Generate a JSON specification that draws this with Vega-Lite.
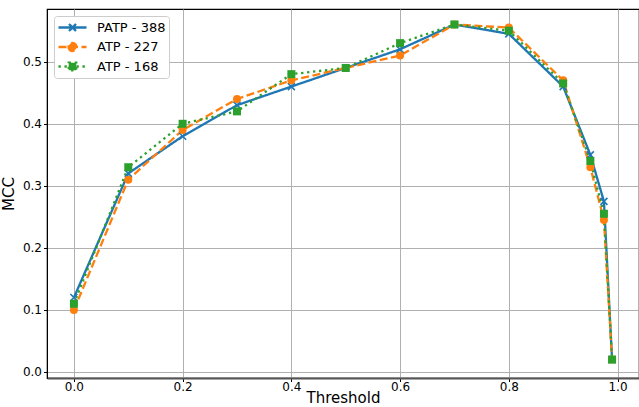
{
  "$schema": "https://vega.github.io/schema/vega-lite/v6.json",
  "width": 592,
  "height": 369,
  "autosize": {"type": "none"},
  "padding": {"left": 47, "top": 9, "right": 0, "bottom": 29},
  "config": {
    "font": "DejaVu Sans",
    "view": {"stroke": "black", "strokeWidth": 1.2},
    "axis": {
      "labelFont": "DejaVu Sans",
      "titleFont": "DejaVu Sans",
      "labelFontSize": 12,
      "titleFontSize": 15,
      "titleFontWeight": "normal",
      "labelColor": "black",
      "titleColor": "black",
      "tickColor": "black",
      "tickSize": 3.5,
      "gridColor": "#b0b0b0",
      "gridWidth": 1,
      "domainColor": "black"
    }
  },
  "datasets": {
    "mcc": [
      {"series": "PATP - 388", "threshold": 0.0, "mcc": 0.12},
      {"series": "PATP - 388", "threshold": 0.1, "mcc": 0.32},
      {"series": "PATP - 388", "threshold": 0.2, "mcc": 0.38},
      {"series": "PATP - 388", "threshold": 0.3, "mcc": 0.43},
      {"series": "PATP - 388", "threshold": 0.4, "mcc": 0.46},
      {"series": "PATP - 388", "threshold": 0.5, "mcc": 0.49},
      {"series": "PATP - 388", "threshold": 0.6, "mcc": 0.52},
      {"series": "PATP - 388", "threshold": 0.7, "mcc": 0.56},
      {"series": "PATP - 388", "threshold": 0.8, "mcc": 0.545},
      {"series": "PATP - 388", "threshold": 0.9, "mcc": 0.46},
      {"series": "PATP - 388", "threshold": 0.95, "mcc": 0.35},
      {"series": "PATP - 388", "threshold": 0.975, "mcc": 0.275},
      {"series": "PATP - 388", "threshold": 0.99, "mcc": 0.02},
      {"series": "ATP - 227", "threshold": 0.0, "mcc": 0.10},
      {"series": "ATP - 227", "threshold": 0.1, "mcc": 0.31},
      {"series": "ATP - 227", "threshold": 0.2, "mcc": 0.39},
      {"series": "ATP - 227", "threshold": 0.3, "mcc": 0.44},
      {"series": "ATP - 227", "threshold": 0.4, "mcc": 0.47},
      {"series": "ATP - 227", "threshold": 0.5, "mcc": 0.49},
      {"series": "ATP - 227", "threshold": 0.6, "mcc": 0.51},
      {"series": "ATP - 227", "threshold": 0.7, "mcc": 0.56},
      {"series": "ATP - 227", "threshold": 0.8, "mcc": 0.555},
      {"series": "ATP - 227", "threshold": 0.9, "mcc": 0.47},
      {"series": "ATP - 227", "threshold": 0.95, "mcc": 0.33},
      {"series": "ATP - 227", "threshold": 0.975, "mcc": 0.245},
      {"series": "ATP - 227", "threshold": 0.99, "mcc": 0.02},
      {"series": "ATP - 168", "threshold": 0.0, "mcc": 0.11},
      {"series": "ATP - 168", "threshold": 0.1, "mcc": 0.33},
      {"series": "ATP - 168", "threshold": 0.2, "mcc": 0.40},
      {"series": "ATP - 168", "threshold": 0.3, "mcc": 0.42},
      {"series": "ATP - 168", "threshold": 0.4, "mcc": 0.48},
      {"series": "ATP - 168", "threshold": 0.5, "mcc": 0.49},
      {"series": "ATP - 168", "threshold": 0.6, "mcc": 0.53},
      {"series": "ATP - 168", "threshold": 0.7, "mcc": 0.56},
      {"series": "ATP - 168", "threshold": 0.8, "mcc": 0.55},
      {"series": "ATP - 168", "threshold": 0.9, "mcc": 0.465},
      {"series": "ATP - 168", "threshold": 0.95, "mcc": 0.34},
      {"series": "ATP - 168", "threshold": 0.975, "mcc": 0.255},
      {"series": "ATP - 168", "threshold": 0.99, "mcc": 0.02}
    ]
  },
  "data": {"name": "mcc"},
  "encoding": {
    "x": {
      "field": "threshold",
      "type": "quantitative",
      "scale": {"domain": [-0.0495, 1.0395], "nice": false, "zero": false},
      "axis": {
        "title": "Threshold",
        "values": [0, 0.2, 0.4, 0.6, 0.8, 1.0],
        "format": ".1f",
        "grid": true,
        "domainColor": "#555555",
        "domainWidth": 2,
        "labelPadding": 0,
        "titlePadding": -2
      }
    },
    "y": {
      "field": "mcc",
      "type": "quantitative",
      "scale": {"domain": [-0.0097, 0.585], "nice": false, "zero": false},
      "axis": {
        "title": "MCC",
        "values": [0, 0.1, 0.2, 0.3, 0.4, 0.5],
        "format": ".1f",
        "grid": true,
        "labelPadding": 2,
        "titlePadding": 6
      }
    },
    "color": {
      "field": "series",
      "type": "nominal",
      "sort": null,
      "scale": {
        "domain": ["PATP - 388", "ATP - 227", "ATP - 168"],
        "range": ["#1f77b4", "#ff7f0e", "#2ca02c"]
      },
      "legend": {
        "title": null,
        "orient": "top-left",
        "offset": 7,
        "padding": 3,
        "fillColor": "white",
        "strokeColor": "#cccccc",
        "cornerRadius": 3,
        "labelFont": "DejaVu Sans",
        "labelFontSize": 13,
        "labelColor": "black",
        "labelOffset": 23,
        "symbolSize": 196,
        "symbolStrokeWidth": 2.3,
        "rowPadding": 1.5,
        "symbolOpacity": 1,
        "encode": {
          "symbols": {
            "update": {
              "shape": {"signal": "datum.value === 'PATP - 388' ? 'M-1,0L3,0M0.5,-0.5L1.5,0.5M0.5,0.5L1.5,-0.5' : (datum.value === 'ATP - 227' ? 'M-1,0L3,0M0.43,0A0.57,0.57 0 1,0 1.57,0A0.57,0.57 0 1,0 0.43,0Z' : 'M-1,0L3,0M0.46,-0.54L1.54,-0.54L1.54,0.54L0.46,0.54Z')"},
              "fill": {"signal": "datum.value === 'PATP - 388' ? 'transparent' : (datum.value === 'ATP - 227' ? '#ff7f0e' : '#2ca02c')"},
              "stroke": {"signal": "datum.value === 'PATP - 388' ? '#1f77b4' : (datum.value === 'ATP - 227' ? '#ff7f0e' : '#2ca02c')"}
            }
          }
        }
      }
    }
  },
  "layer": [
    {
      "mark": {"type": "line", "strokeWidth": 2.3, "clip": true},
      "encoding": {
        "strokeDash": {
          "field": "series",
          "type": "nominal",
          "sort": null,
          "scale": {
            "domain": ["PATP - 388", "ATP - 227", "ATP - 168"],
            "range": [[1, 0], [8, 3.5], [2.3, 3.7]]
          },
          "legend": null
        }
      }
    },
    {
      "transform": [{"filter": "datum.series === 'PATP - 388'"}],
      "mark": {"type": "point", "shape": "M-1,-1L1,1M-1,1L1,-1", "filled": false, "opacity": 1, "strokeWidth": 1.6, "size": 49, "clip": true}
    },
    {
      "transform": [{"filter": "datum.series === 'ATP - 227'"}],
      "mark": {"type": "point", "shape": "circle", "filled": true, "opacity": 1, "size": 64, "clip": true}
    },
    {
      "transform": [{"filter": "datum.series === 'ATP - 168'"}],
      "mark": {"type": "point", "shape": "square", "filled": true, "opacity": 1, "size": 64, "clip": true}
    }
  ]
}
